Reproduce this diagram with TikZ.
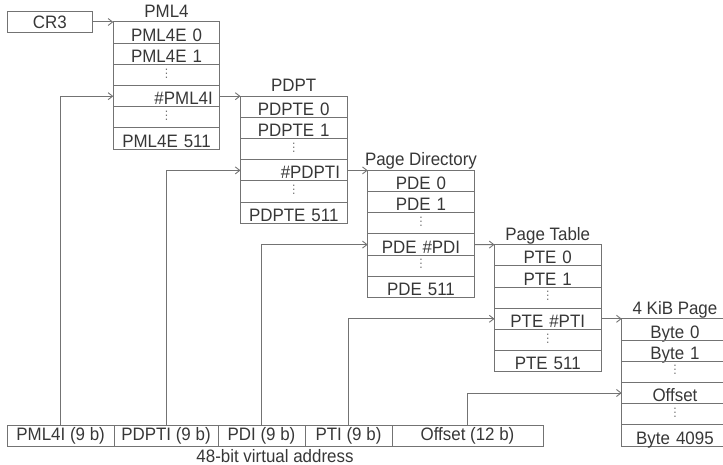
\documentclass[tikz,border=0pt]{standalone}
\usepackage{fontspec}
\setmainfont{Liberation Sans}[FakeStretch=0.94]
\usetikzlibrary{arrows.meta}

\definecolor{linegray}{RGB}{115,115,115}
\definecolor{textgray}{RGB}{55,55,55}

\tikzset{
  base text/.style={font=\fontsize{18}{20}\selectfont, text=textgray},
  cell/.style={base text, draw=linegray, line width=1pt, outer sep=0pt,
    inner sep=0pt, minimum width=106.5pt, minimum height=21.2pt,
    text width=92.5pt, align=center, text height=17.2pt, text depth=0pt},
  pickright/.style={align=right},
  elided/.style={text=linegray},
  caption/.style={base text, inner sep=0pt},
  field/.style={base text, draw=linegray, line width=1pt, outer sep=0pt,
    inner sep=0pt, minimum height=21.8pt, text height=13pt, text depth=4pt},
  link/.style={draw=linegray, line width=1pt,
    -{Straight Barb[length=4.5pt,width=7pt,line width=0.9pt]}},
}

% three small dots filling an elided row
\newcommand\rowdots{\raisebox{5.5pt}{\fontsize{13}{13}\selectfont\vdots}}

% one table of six rows: name, left x, top y, title, row 1, row 2, selected row, last row, style of the selected row
\newcommand\pagingtable[9]{%
  \node[caption, anchor=base] (#1-title) at ({#2+53.25},{#3-4.5}) {#4};
  \node[cell, anchor=north west] (#1-1) at (#2,#3) {#5};
  \node[cell, anchor=north west] (#1-2) at (#2,{#3+21.2}) {#6};
  \node[cell, elided, anchor=north west] (#1-3) at (#2,{#3+42.4}) {\rowdots};
  \node[cell, anchor=north west, #9] (#1-4) at (#2,{#3+63.6}) {#7};
  \node[cell, elided, anchor=north west] (#1-5) at (#2,{#3+84.8}) {\rowdots};
  \node[cell, anchor=north west] (#1-6) at (#2,{#3+106}) {#8};
}

\begin{document}
\begin{tikzpicture}[x=1pt,y=-1pt]
  \useasboundingbox (0,0) rectangle (723,465);

  % control register
  \node[field, minimum width=85pt, minimum height=20.6pt, text height=13pt,
        text depth=0.4pt, anchor=north west] (cr3) at (7.3,11.7) {CR3};

  % the four levels of tables and the final page
  \pagingtable{pml4}{113.3}{22}{PML4}{PML4E 0}{PML4E 1}{\#PML4I}{PML4E 511}{pickright}
  \pagingtable{pdpt}{240.5}{96.2}{PDPT}{PDPTE 0}{PDPTE 1}{\#PDPTI}{PDPTE 511}{pickright}
  \pagingtable{pd}{367.7}{170.4}{Page Directory}{PDE 0}{PDE 1}{PDE \#PDI}{PDE 511}{}
  \pagingtable{pt}{494.5}{244.6}{Page Table}{PTE 0}{PTE 1}{PTE \#PTI}{PTE 511}{}
  \pagingtable{pg}{621.7}{318.8}{4 KiB Page}{Byte 0}{Byte 1}{Offset}{Byte 4095}{}

  % fields of the virtual address
  \node[field, minimum width=106.7pt, anchor=north west] (va-1) at (7.3,425) {PML4I (9 b)};
  \node[field, minimum width=104pt, anchor=north west] (va-2) at (114,425) {PDPTI (9 b)};
  \node[field, minimum width=87pt, anchor=north west] (va-3) at (218,425) {PDI (9 b)};
  \node[field, minimum width=87pt, anchor=north west] (va-4) at (305,425) {PTI (9 b)};
  \node[field, minimum width=151pt, anchor=north west] (va-5) at (392,425) {Offset (12 b)};
  \node[caption, anchor=base] (va-title) at (275,462) {48-bit virtual address};

  % table chaining
  \draw[link] (cr3.east) -- (pml4-1.north west);
  \draw[link] (pml4-4.east) -- (pdpt-1.north west);
  \draw[link] (pdpt-4.east) -- (pd-1.north west);
  \draw[link] (pd-4.east) -- (pt-1.north west);
  \draw[link] (pt-4.east) -- (pg-1.north west);

  % index fields selecting rows
  \draw[link] (va-1.north) |- (pml4-4.west);
  \draw[link] (va-2.north) |- (pdpt-4.west);
  \draw[link] (va-3.north) |- (pd-4.west);
  \draw[link] (va-4.north) |- (pt-4.west);
  \draw[link] (va-5.north) |- (pg-4.west);
\end{tikzpicture}
\end{document}
